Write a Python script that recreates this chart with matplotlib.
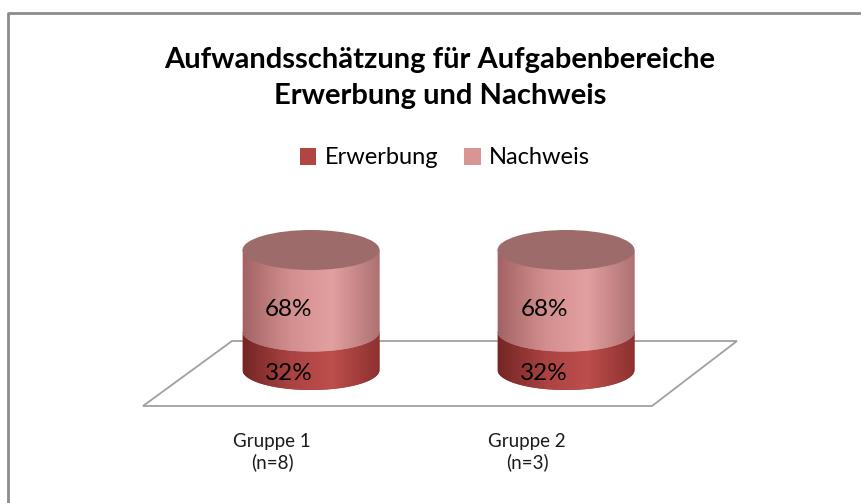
import numpy as np
import matplotlib
matplotlib.use("Agg")
import matplotlib.pyplot as plt
from matplotlib.path import Path
from matplotlib.patches import PathPatch, Ellipse, Rectangle, Polygon
from matplotlib.colors import LinearSegmentedColormap
from matplotlib.lines import Line2D

# data
groups = ["Gruppe 1\n(n=8)", "Gruppe 2\n(n=3)"]
series = ["Erwerbung", "Nachweis"]
erwerbung = [32, 32]
nachweis = [68, 68]

title = "Aufwandsschätzung für Aufgabenbereiche\nErwerbung und Nachweis"

# colours (edge, mid, light, edge) for the shaded cylinder sides
side_colors = {
    "Erwerbung": ["#742625", "#aa4342", "#bd4e4c", "#8c3130"],
    "Nachweis": ["#a36364", "#d38f8f", "#e3a0a0", "#ad7172"],
}
legend_colors = {"Erwerbung": "#b04544", "Nachweis": "#d99594"}
top_color = "#9e6b6b"

plt.rcParams["font.family"] = ["Lato", "DejaVu Sans"]

W, H = 862, 503
fig = plt.figure(figsize=(W / 100, H / 100), dpi=100)
fig.patch.set_facecolor("white")

# axes covering the whole figure, data scale chosen so that groups sit
# where the cylinders are in the reference
ax = fig.add_axes([0, 0, 1, 1])
px_x = 255.0          # pixels per category step
px_y = 1.2            # pixels per percent
x0_px, y0_px = 311, 370
ax.set_xlim(-x0_px / px_x, (W - x0_px) / px_x)
ax.set_ylim((y0_px - H) / px_y, y0_px / px_y)
ax.axis("off")

# outer frame (left and top edge visible)
ax.add_artist(Line2D([8 / W, 8 / W, 1], [0, 1 - 13 / H, 1 - 13 / H],
                     transform=fig.transFigure, color="#8c8c8c", lw=2, zorder=1))

# floor plane
floor = np.array([[143, 406], [232, 341], [737, 341], [652, 406]], float)
floor[:, 0] /= W
floor[:, 1] = 1 - floor[:, 1] / H
ax.add_patch(Polygon(floor, closed=True, transform=fig.transFigure,
                     facecolor="white", edgecolor="#a0a0a0", lw=1.3, zorder=1))

x = np.arange(len(groups))
width = 137 / px_x
ell_h = 40 / px_y     # ellipse height in data units

bars_e = ax.bar(x, erwerbung, width, color="none", zorder=2)
bars_n = ax.bar(x, nachweis, width, bottom=erwerbung, color="none", zorder=2)

grad = np.linspace(0, 1, 256).reshape(1, -1)


def shade_segment(rect, name, z):
    bx, by = rect.get_x(), rect.get_y()
    bw, bh = rect.get_width(), rect.get_height()
    xc = bx + bw / 2
    t = np.linspace(0, np.pi, 60)
    arc_x = xc + bw / 2 * np.cos(t)
    arc_y = by - ell_h / 2 * np.sin(t)
    verts = [(bx, by + bh), (bx + bw, by + bh)] + list(zip(arc_x, arc_y)) + [(bx, by + bh)]
    codes = [Path.MOVETO] + [Path.LINETO] * (len(verts) - 2) + [Path.CLOSEPOLY]
    patch = PathPatch(Path(verts, codes), facecolor=side_colors[name][1],
                      edgecolor="none", zorder=z)
    ax.add_patch(patch)
    cmap = LinearSegmentedColormap.from_list(
        name, list(zip([0, 0.35, 0.65, 1.0], side_colors[name])))
    im = ax.imshow(grad, cmap=cmap, aspect="auto", zorder=z + 0.1,
                   extent=(bx, bx + bw, by - ell_h / 2, by + bh),
                   interpolation="bilinear")
    im.set_clip_path(patch)


lbl_dx = -22 / px_x   # value labels sit a bit left of the cylinder axis
for i in range(len(groups)):
    shade_segment(bars_e[i], "Erwerbung", 3)
    shade_segment(bars_n[i], "Nachweis", 4)
    r = bars_n[i]
    ax.add_patch(Ellipse((r.get_x() + r.get_width() / 2, r.get_y() + r.get_height()),
                         r.get_width(), ell_h, facecolor=top_color,
                         edgecolor="none", zorder=5))
    # value labels
    ax.text(x[i] + lbl_dx, erwerbung[i] / 2 - 19, f"{erwerbung[i]}%", ha="center",
            va="center", fontsize=17.5, color="black", zorder=6)
    ax.text(x[i] + lbl_dx, erwerbung[i] + nachweis[i] / 2 - 16, f"{nachweis[i]}%",
            ha="center", va="center", fontsize=17.5, color="black", zorder=6)
    # category labels (shifted left by the 3D perspective in the original)
    ax.text(x[i] - 39 / px_x, (y0_px - 452) / px_y, groups[i], ha="center", va="center",
            fontsize=13.5, color="#1a1a1a", linespacing=1.25, zorder=6)

# title
fig.text(440 / W, 1 - 78 / H, title, ha="center", va="center", fontsize=21,
         fontweight="bold", linespacing=1.45)

# legend
handles = [Rectangle((0, 0), 1, 1, facecolor=legend_colors[s]) for s in series]
fig.legend(handles, series, loc="center", bbox_to_anchor=(445 / W, 1 - 158 / H),
           ncol=2, frameon=False, fontsize=17, handlelength=0.7, handleheight=0.7,
           handletextpad=0.35, columnspacing=1.1)

fig.savefig("out.png", dpi=100, facecolor="white")
